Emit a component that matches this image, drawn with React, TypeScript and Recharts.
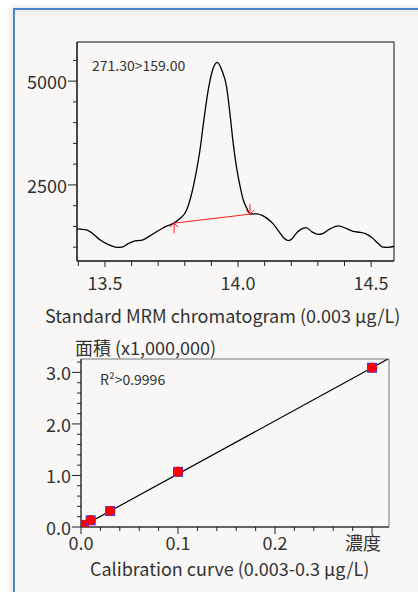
import React from "react";
import { ComposedChart, Line, Scatter, XAxis, YAxis, ReferenceArea } from "recharts";

const FONT = '"Noto Sans CJK JP", "Noto Sans", sans-serif';
const TEXT = "#333";

// MRM chromatogram 271.30>159.00, retention time (min) vs intensity
const rtMin = [
  13.396, 13.431, 13.455, 13.481, 13.511, 13.545, 13.564, 13.586, 13.605, 13.643,
  13.669, 13.695, 13.726, 13.757, 13.782, 13.807, 13.82, 13.832, 13.845, 13.857,
  13.872, 13.888, 13.905, 13.922, 13.94, 13.957, 13.97, 13.982, 13.995, 14.008,
  14.02, 14.033, 14.045, 14.071, 14.09, 14.109, 14.132, 14.158, 14.173, 14.189,
  14.203, 14.214, 14.233, 14.255, 14.278, 14.301, 14.316, 14.346, 14.377, 14.406,
  14.432, 14.459, 14.477, 14.504, 14.526, 14.545, 14.564, 14.586,
];
const intensity = [
  1442, 1418, 1322, 1178, 1070, 998, 1002, 1082, 1137, 1178,
  1274, 1377, 1490, 1575, 1690, 1899, 2150, 2460, 2880, 3341,
  4080, 4784, 5280, 5450, 5250, 4863, 4200, 3495, 2900, 2460,
  2130, 1940, 1800, 1803, 1767, 1695, 1562, 1339, 1214, 1161,
  1202, 1298, 1418, 1474, 1370, 1310, 1322, 1442, 1514, 1454,
  1382, 1358, 1334, 1226, 1094, 1002, 998, 1017,
];
// integration baseline (start / end of peak)
const baseRt = [13.76, 14.045];
const baseInt = [1579, 1796];

const chromXDomain = [13.395, 14.586];
const chromYDomain = [668, 5942];
const chromXTicks = [13.4, 13.5, 13.6, 13.7, 13.8, 13.9, 14.0, 14.1, 14.2, 14.3, 14.4, 14.5];
const chromXMajor = [13.5, 14.0, 14.5];
const chromXLabels = ["13.5", "14.0", "14.5"];
const chromYTicks = [1000, 1500, 2000, 2500, 3000, 3500, 4000, 4500, 5000, 5500];
const chromYMajor = [2500, 5000];
const chromYLabels = ["2500", "5000"];

// calibration curve (0.003-0.3 ug/L)
const calConc = [0.003, 0.01, 0.03, 0.1, 0.3];
const calArea = [0.04, 0.13, 0.31, 1.07, 3.09];
const fitConc = [0, 0.316];
const fitArea = [0, 3.255];

const calXDomain = [0, 0.3175];
const calYDomain = [0, 3.26];
const calXTicks = [0, 0.02, 0.04, 0.06, 0.08, 0.1, 0.12, 0.14, 0.16, 0.18, 0.2, 0.22, 0.24, 0.26, 0.28, 0.3];
const calXMajor = [0, 0.1, 0.2, 0.3];
const calXLabels = ["0.0", "0.1", "0.2", "濃度"];
const calYTicks = [0, 0.2, 0.4, 0.6, 0.8, 1, 1.2, 1.4, 1.6, 1.8, 2, 2.2, 2.4, 2.6, 2.8, 3, 3.2];
const calYMajor = [0, 1, 2, 3];
const calYLabels = ["0.0", "1.0", "2.0", "3.0"];

const chromData = rtMin.map((rt, i) => ({ rt, intensity: intensity[i] }));
const baseData = baseRt.map((rt, i) => ({ rt, intensity: baseInt[i] }));
const calData = calConc.map((conc, i) => ({ conc, area: calArea[i] }));
const fitData = fitConc.map((conc, i) => ({ conc, area: fitArea[i] }));

const idx = (list: number[], v: number) => list.findIndex((m) => Math.abs(m - v) < 1e-9);

function makeYTick(majors: number[], labels: string[], majorLen: number, minorLen: number) {
  return (props: any) => {
    const { x, y, payload } = props;
    const i = idx(majors, payload.value);
    const len = i >= 0 ? majorLen : minorLen;
    return (
      <g>
        <line x1={x - len} x2={x} y1={y} y2={y} stroke="#222" />
        {i >= 0 && (
          <text x={x - len - 1} y={y} textAnchor="end" dominantBaseline="central" fontSize={18} fill={TEXT} fontFamily={FONT}>
            {labels[i]}
          </text>
        )}
      </g>
    );
  };
}

function makeXTick(majors: number[], labels: string[], majorLen: number, minorLen: number, dy: number, dx = (_: number) => 0) {
  return (props: any) => {
    const { x, y, payload } = props;
    const i = idx(majors, payload.value);
    const len = i >= 0 ? majorLen : minorLen;
    return (
      <g>
        <line x1={x} x2={x} y1={y} y2={y + len} stroke="#222" />
        {i >= 0 && (
          <text x={x + dx(i)} y={y + dy} textAnchor="middle" dominantBaseline="central" fontSize={18} fill={TEXT} fontFamily={FONT}>
            {labels[i]}
          </text>
        )}
      </g>
    );
  };
}

const ArrowUp = (p: any) => (
  <g stroke="#ff1a1a" strokeWidth={1} fill="none">
    <line x1={p.cx} x2={p.cx} y1={p.cy} y2={p.cy + 10} />
    <polyline points={`${p.cx - 4},${p.cy + 4} ${p.cx},${p.cy} ${p.cx + 4},${p.cy + 4}`} />
  </g>
);
const ArrowDown = (p: any) => (
  <g stroke="#ff1a1a" strokeWidth={1} fill="none">
    <line x1={p.cx} x2={p.cx} y1={p.cy - 10} y2={p.cy} />
    <polyline points={`${p.cx - 4},${p.cy - 4} ${p.cx},${p.cy} ${p.cx + 4},${p.cy - 4}`} />
  </g>
);
const CalMarker = (p: any) => (
  <g>
    <rect x={p.cx - 5} y={p.cy - 5} width={10} height={10} fill="#3b3bff" />
    <circle cx={p.cx} cy={p.cy} r={5} fill="#ff0000" />
  </g>
);

const label = (style: React.CSSProperties, text: string, size = 18) => (
  <div style={{ position: "absolute", fontFamily: FONT, fontSize: size, color: TEXT, whiteSpace: "nowrap", lineHeight: 1, ...style }}>
    {text}
  </div>
);

export default function App() {
  return (
    <div style={{ position: "absolute", left: 0, top: 0, width: 418, height: 592, background: "#fff", overflow: "hidden" }}>
      <div
        style={{
          position: "absolute", left: 13, top: 8, width: 440, height: 620,
          borderLeft: "2px solid #4a86c8", borderTop: "2px solid #4a86c8",
          background: "#f8f7f6",
          boxShadow: "-2px 0 6px rgba(0,0,0,0.13), inset 0 9px 8px -7px rgba(0,0,0,0.07)",
        }}
      />

      <div style={{ position: "absolute", left: 0, top: 0 }}>
        <ComposedChart width={418} height={300} margin={{ top: 42, right: 24, bottom: 0, left: 0 }}>
          <XAxis
            dataKey="rt" type="number" domain={chromXDomain} allowDataOverflow ticks={chromXTicks} interval={0}
            height={39} tickSize={0} tickMargin={0} tickLine={false} axisLine={{ stroke: "#111" }}
            tick={makeXTick(chromXMajor, chromXLabels, 6, 5, 21)}
          />
          <YAxis
            type="number" domain={chromYDomain} allowDataOverflow ticks={chromYTicks} interval={0}
            width={77} tickSize={0} tickMargin={0} tickLine={false} axisLine={{ stroke: "#111" }}
            tick={makeYTick(chromYMajor, chromYLabels, 9, 4)}
          />
          <ReferenceArea x1={chromXDomain[0]} x2={chromXDomain[1]} y1={chromYDomain[0]} y2={chromYDomain[1]} fill="none" stroke="#111" ifOverflow="visible" />
          <Line data={chromData} dataKey="intensity" type="monotone" stroke="#000" strokeWidth={1.3} dot={false} isAnimationActive={false} />
          <Line data={baseData} dataKey="intensity" type="linear" stroke="#ff1a1a" strokeWidth={1} dot={false} isAnimationActive={false} />
          <Scatter data={[baseData[0]]} dataKey="intensity" shape={ArrowUp} isAnimationActive={false} />
          <Scatter data={[baseData[1]]} dataKey="intensity" shape={ArrowDown} isAnimationActive={false} />
        </ComposedChart>
      </div>
      {label({ left: 92, top: 58 }, "271.30>159.00", 14)}
      {label({ left: 45, top: 306 }, "Standard MRM chromatogram (0.003 μg/L)")}
      {label({ left: 75, top: 338 }, "面積 (x1,000,000)")}

      <div style={{ position: "absolute", left: 0, top: 340 }}>
        <ComposedChart width={418} height={215} margin={{ top: 19, right: 29, bottom: 0, left: 0 }}>
          <XAxis
            dataKey="conc" type="number" domain={calXDomain} allowDataOverflow ticks={calXTicks} interval={0}
            height={28} tickSize={0} tickMargin={0} tickLine={false} axisLine={{ stroke: "#111" }}
            tick={makeXTick(calXMajor, calXLabels, 7, 4, 15, (i) => (i === 3 ? -9 : 0))}
          />
          <YAxis
            type="number" domain={calYDomain} allowDataOverflow ticks={calYTicks} interval={0}
            width={81} tickSize={0} tickMargin={0} tickLine={false} axisLine={{ stroke: "#111" }}
            tick={makeYTick(calYMajor, calYLabels, 9, 4)}
          />
          <ReferenceArea x1={calXDomain[0]} x2={calXDomain[1]} y1={calYDomain[0]} y2={calYDomain[1]} fill="none" stroke="#777" ifOverflow="visible" />
          <Line data={fitData} dataKey="area" type="linear" stroke="#000" strokeWidth={1.2} dot={false} isAnimationActive={false} />
          <Scatter data={calData} dataKey="area" shape={CalMarker} isAnimationActive={false} />
        </ComposedChart>
      </div>
      {label({ left: 100, top: 372 }, "R²>0.9996", 14)}
      {label({ left: 90, top: 559 }, "Calibration curve (0.003-0.3 μg/L)")}
    </div>
  );
}
